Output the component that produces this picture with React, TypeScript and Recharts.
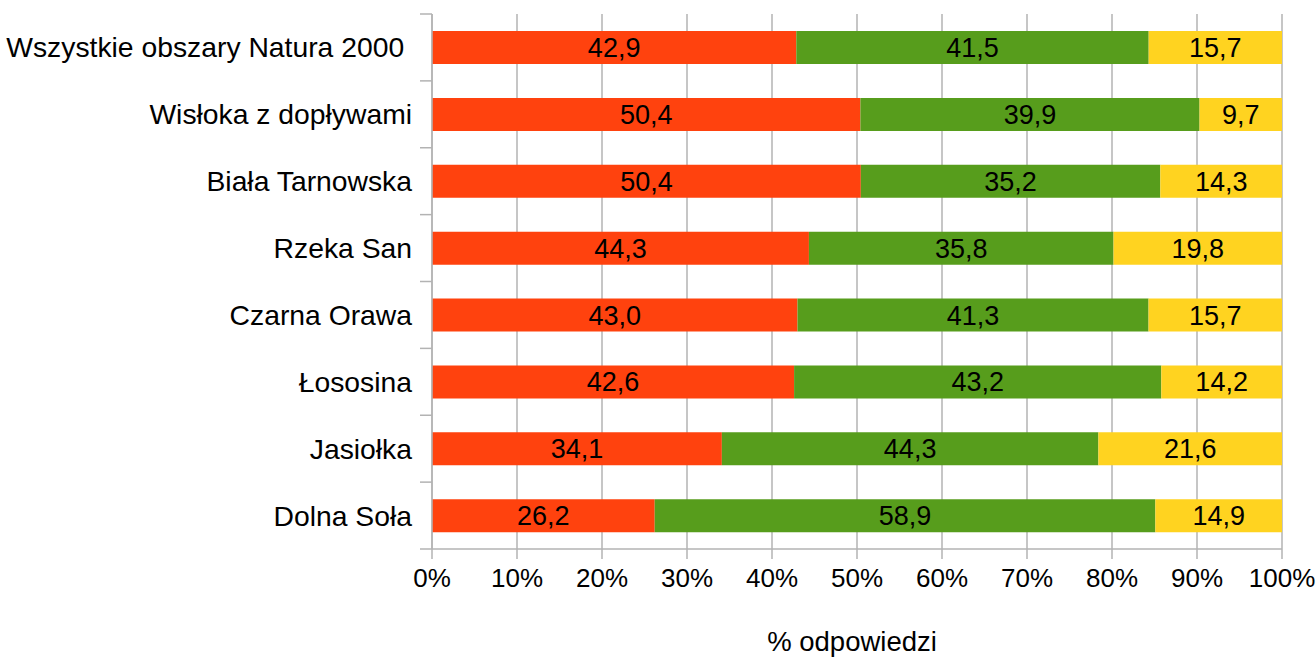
import React from "react";
import { BarChart, Bar, XAxis, YAxis, CartesianGrid, LabelList } from "recharts";

const categories = [
  "Wszystkie obszary Natura 2000 ",
  "Wisłoka z dopływami",
  "Biała Tarnowska",
  "Rzeka San",
  "Czarna Orawa",
  "Łososina",
  "Jasiołka",
  "Dolna Soła",
];
const seriesA = [42.9, 50.4, 50.4, 44.3, 43.0, 42.6, 34.1, 26.2];
const seriesB = [41.5, 39.9, 35.2, 35.8, 41.3, 43.2, 44.3, 58.9];
const seriesC = [15.7, 9.7, 14.3, 19.8, 15.7, 14.2, 21.6, 14.9];
const xTicks = [0, 0.1, 0.2, 0.3, 0.4, 0.5, 0.6, 0.7, 0.8, 0.9, 1];

const data = categories.map((name, i) => ({
  name,
  a: seriesA[i],
  b: seriesB[i],
  c: seriesC[i],
}));

const W = 1316;
const H = 657;
const TOP = 14;
const BOTTOM_AXIS = 108;
const LEFT = 432;
const RIGHT = 34;
const BAND = (H - TOP - BOTTOM_AXIS) / categories.length;
const GRID = "#b3b3b3";
const FONT = "'Liberation Sans', Arial, sans-serif";

const fmt = (v: any) => Number(v).toFixed(1).replace(".", ",");

const CatTick = (props: any) => {
  const { x, y, payload, index } = props;
  return (
    <g>
      <line x1={x - 12} x2={x} y1={y - BAND / 2} y2={y - BAND / 2} stroke={GRID} strokeWidth={1.5} />
      {index === categories.length - 1 && (
        <line x1={x - 12} x2={x} y1={y + BAND / 2} y2={y + BAND / 2} stroke={GRID} strokeWidth={1.5} />
      )}
      <text x={x - 20} y={y} textAnchor="end" dominantBaseline="central" fontSize={28.3} fill="#000" fontFamily={FONT} style={{ whiteSpace: "pre" }}>
        {payload.value}
      </text>
    </g>
  );
};

const AxisTitle = (props: any) => {
  const vb = props.viewBox || {};
  const cx = vb.x + vb.width / 2 - 5;
  return (
    <text x={cx} y={651} textAnchor="middle" fontSize={27.5} fill="#000" fontFamily={FONT}>
      % odpowiedzi
    </text>
  );
};

const labelStyle = { fontSize: 27, fill: "#000", fontFamily: FONT };

export default function App() {
  return (
    <div style={{ position: "absolute", left: 0, top: 0, width: W, height: H, background: "#fff" }}>
      <BarChart
        width={W}
        height={H}
        data={data}
        layout="vertical"
        stackOffset="expand"
        margin={{ top: TOP, right: RIGHT, bottom: 0, left: 0 }}
      >
        <CartesianGrid horizontal={false} stroke={GRID} strokeWidth={1.5} />
        <XAxis
          type="number"
          domain={[0, 1]}
          ticks={xTicks}
          tickFormatter={(v: number) => `${Math.round(v * 100)}%`}
          height={BOTTOM_AXIS}
          axisLine={{ stroke: GRID, strokeWidth: 1.5 }}
          tickLine={{ stroke: GRID, strokeWidth: 1.5 }}
          tickSize={10}
          tickMargin={10}
          tick={{ fontSize: 26, fill: "#000", fontFamily: FONT }}
          label={<AxisTitle />}
        />
        <XAxis
          xAxisId="top"
          orientation="top"
          type="number"
          domain={[0, 1]}
          height={0}
          tick={false}
          tickLine={false}
          axisLine={{ stroke: GRID, strokeWidth: 1.5 }}
        />
        <YAxis
          type="category"
          dataKey="name"
          width={LEFT}
          axisLine={{ stroke: GRID, strokeWidth: 1.5 }}
          tickLine={false}
          tickSize={0}
          tickMargin={0}
          tick={<CatTick />}
          interval={0}
        />
        <Bar dataKey="a" stackId="s" fill="#ff420e" barSize={33} isAnimationActive={false}>
          <LabelList dataKey="a" position="center" formatter={fmt} style={labelStyle} />
        </Bar>
        <Bar dataKey="b" stackId="s" fill="#579d1c" barSize={33} isAnimationActive={false}>
          <LabelList dataKey="b" position="center" formatter={fmt} style={labelStyle} />
        </Bar>
        <Bar dataKey="c" stackId="s" fill="#ffd320" barSize={33} isAnimationActive={false}>
          <LabelList dataKey="c" position="center" formatter={fmt} style={labelStyle} />
        </Bar>
      </BarChart>
    </div>
  );
}
